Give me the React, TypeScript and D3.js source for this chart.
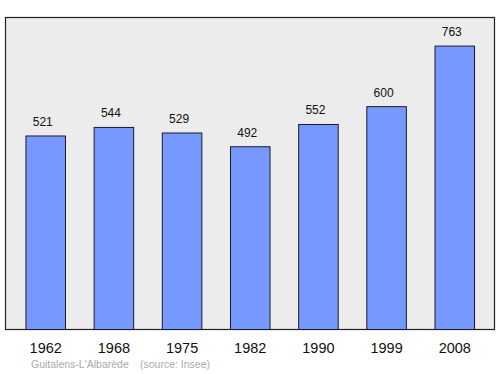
import React from "react";
import * as d3 from "d3";

const years = ["1962", "1968", "1975", "1982", "1990", "1999", "2008"];
const population = [521, 544, 529, 492, 552, 600, 763];
const placeName = "Guitalens-L'Albarède";
const sourceText = "(source: Insee)";

const W = 500;
const H = 374;
const plot = { left: 5.5, top: 17.5, right: 494.5, bottom: 329.5 };

export default function App() {
  const x = d3
    .scaleBand<string>()
    .domain(years)
    .range([plot.left, plot.right + 0.5])
    .paddingInner(0.42)
    .paddingOuter(0.3);
  const y = d3
    .scaleLinear()
    .domain([0, 840])
    .range([plot.bottom, plot.top]);

  return (
    <svg
      width={W}
      height={H}
      style={{ position: "absolute", left: 0, top: 0, fontFamily: "'Liberation Sans', Arial, sans-serif" }}
    >
      <rect x={0} y={0} width={W} height={H} fill="#ffffff" />
      <rect
        x={plot.left}
        y={plot.top}
        width={plot.right - plot.left}
        height={plot.bottom - plot.top}
        fill="#ececec"
        stroke="#222"
        strokeWidth={1.2}
      />
      {years.map((yr, i) => {
        const bx = x(yr)!;
        const bw = x.bandwidth();
        const v = population[i];
        return (
          <g key={yr}>
            <rect
              x={bx}
              y={y(v)}
              width={bw}
              height={plot.bottom - y(v)}
              fill="#7799ff"
              stroke="#1a1a2a"
              strokeWidth={1}
            />
            <text
              x={bx + bw / 2 - 3}
              y={y(v) - 10}
              textAnchor="middle"
              fontSize={12}
              fill="#111"
            >
              {v}
            </text>
            <text
              x={bx + bw / 2}
              y={353}
              textAnchor="middle"
              fontSize={14.5}
              fill="#111"
            >
              {yr}
            </text>
          </g>
        );
      })}
      <text x={31} y={368} fontSize={10.5} fill="#aaaaaa">
        {placeName}
      </text>
      <text x={140} y={368} fontSize={10.5} fill="#aaaaaa">
        {sourceText}
      </text>
    </svg>
  );
}
